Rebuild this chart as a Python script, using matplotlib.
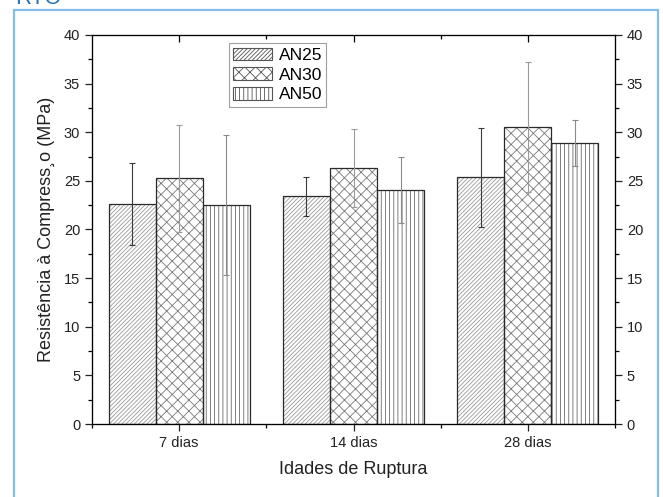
import matplotlib
matplotlib.use('Agg')
import matplotlib.pyplot as plt
import numpy as np
from matplotlib.patches import Rectangle, Patch

# data
ages = ['7 dias', '14 dias', '28 dias']
series = ['AN25', 'AN30', 'AN50']
an25 = [22.6, 23.4, 25.4]
an30 = [25.3, 26.3, 30.5]
an50 = [22.5, 24.1, 28.9]
an25_lo = [18.4, 21.4, 20.3]
an25_hi = [26.8, 25.4, 30.4]
an30_lo = [19.7, 22.3, 23.9]
an30_hi = [30.7, 30.3, 37.2]
an50_lo = [15.3, 20.7, 26.5]
an50_hi = [29.7, 27.5, 31.3]

values = [an25, an30, an50]
lows = [an25_lo, an30_lo, an50_lo]
highs = [an25_hi, an30_hi, an50_hi]
hatches = ['////////', 'xxx', '||||']
hatch_cols = ['#999999', '#7a7a7a', '#6a6a6a']
err_cols = ['#3a3a3a', '#9a9a9a', '#8a8a8a']

plt.rcParams['font.family'] = ['Liberation Sans', 'DejaVu Sans']
plt.rcParams['hatch.linewidth'] = 0.6

fig = plt.figure(figsize=(6.63, 4.97), dpi=100)
ax = fig.add_axes([92/663, 73/497, 523/663, 389/497])

x = np.arange(1, len(ages) + 1)
w = 0.27
handles = []
for i in range(3):
    pos = x + (i - 1) * w
    v = np.array(values[i])
    plt.rcParams['hatch.color'] = hatch_cols[i]
    # hatch layer, then outline on top
    ax.bar(pos, v, w, color='white', edgecolor=hatch_cols[i], linewidth=0,
           hatch=hatches[i], zorder=2)
    ax.bar(pos, v, w, fill=False, edgecolor='#2a2a2a', linewidth=0.9, zorder=3)
    yerr = np.array([v - np.array(lows[i]), np.array(highs[i]) - v])
    ax.errorbar(pos, v, yerr=yerr, fmt='none', ecolor=err_cols[i],
                elinewidth=0.8, capsize=2.5, capthick=0.8, zorder=4)
    handles.append(Patch(facecolor='white', edgecolor='#555555', hatch=hatches[i],
                         linewidth=0.8, label=series[i]))

ax.set_xlim(0.5, 3.5)
ax.set_ylim(0, 40)
ax.set_xticks(x)
ax.set_xticklabels(ages, fontsize=10)
ax.set_xticks([0.5, 1.5, 2.5, 3.5], minor=True)
ax.set_yticks(np.arange(0, 41, 5))
ax.set_yticks(np.arange(2.5, 40, 5), minor=True)
ax.tick_params(axis='both', which='major', direction='out', length=5, width=0.9,
               labelsize=10.5, colors='#222222')
ax.tick_params(axis='both', which='minor', direction='out', length=3, width=0.9)
ax.tick_params(axis='y', which='both', right=True, labelright=True)
for s in ax.spines.values():
    s.set_linewidth(0.9)
    s.set_color('#222222')

top = ax.twiny()
top.set_xlim(ax.get_xlim())
top.set_xticks(x)
top.set_xticks([1.5, 2.5], minor=True)
top.tick_params(axis='x', which='major', direction='in', length=5, width=0.9,
                labeltop=False)
top.tick_params(axis='x', which='minor', direction='in', length=3, width=0.9)

ax.set_xlabel('Idades de Ruptura', fontsize=13, labelpad=8, color='#222222')
ax.set_ylabel('Resistência à Compress\u00b8o (MPa)', fontsize=13, labelpad=6,
              color='#222222')

leg = ax.legend(handles=handles, loc='upper left', bbox_to_anchor=(0.262, 0.979),
                borderaxespad=0, fontsize=12.5, frameon=True, fancybox=False,
                handlelength=2.2, handleheight=0.75, labelspacing=0.25,
                handletextpad=0.4, borderpad=0.25)
leg.get_frame().set_edgecolor('#888888')
leg.get_frame().set_linewidth(0.8)

# light blue frame around the figure and the heading above it, clipped as in the source
fig.patches.append(Rectangle((14/663, -0.05), 644/663, (487/497) + 0.05,
                             transform=fig.transFigure, fill=False,
                             edgecolor='#85BDE8', linewidth=1.6))
fig.text(15/663, 1 - 4/497, 'RTC', fontsize=16, color='#2E74B5',
         ha='left', va='baseline')

fig.savefig('out.png', dpi=100)
